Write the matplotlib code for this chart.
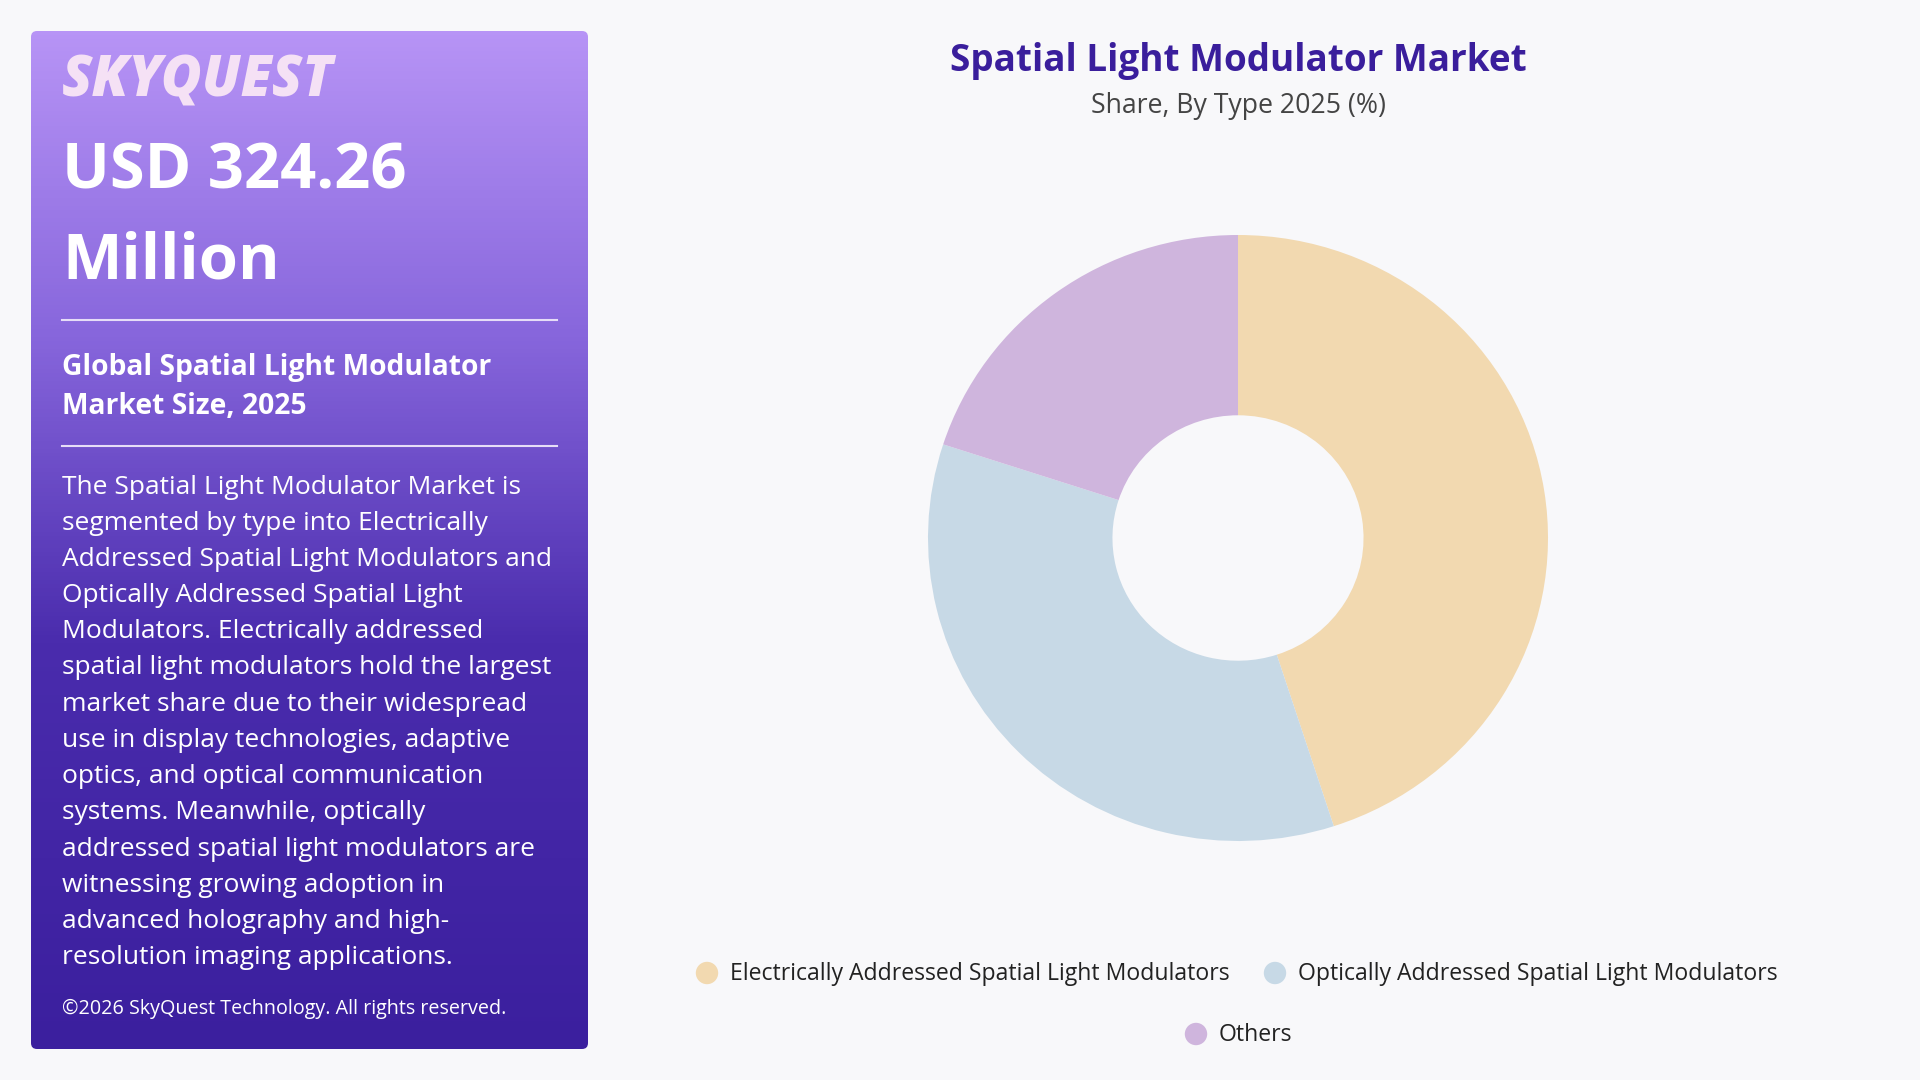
import matplotlib
matplotlib.use("Agg")
import matplotlib.pyplot as plt
import numpy as np
from matplotlib.patches import FancyBboxPatch
from matplotlib.colors import LinearSegmentedColormap

plt.rcParams['font.family'] = ['Open Sans', 'DejaVu Sans']

# chart data
types = ["Electrically Addressed Spatial Light Modulators",
         "Optically Addressed Spatial Light Modulators",
         "Others"]
shares = [45, 35, 20]
colors = ["#F2D9B0", "#C7D9E6", "#CFB5DD"]

title = "Spatial Light Modulator Market"
subtitle = "Share, By Type 2025 (%)"
market_value = ["USD 324.26", "Million"]
panel_heading = ["Global Spatial Light Modulator", "Market Size, 2025"]
body_lines = [
    "The Spatial Light Modulator Market is",
    "segmented by type into Electrically",
    "Addressed Spatial Light Modulators and",
    "Optically Addressed Spatial Light",
    "Modulators. Electrically addressed",
    "spatial light modulators hold the largest",
    "market share due to their widespread",
    "use in display technologies, adaptive",
    "optics, and optical communication",
    "systems. Meanwhile, optically",
    "addressed spatial light modulators are",
    "witnessing growing adoption in",
    "advanced holography and high-",
    "resolution imaging applications.",
]
footer = "\u00a92026 SkyQuest Technology. All rights reserved."

fig = plt.figure(figsize=(19.2, 10.8), dpi=100, facecolor="#F8F8FA")

# overlay axes in pixel coords for the panel, titles and legend
bg = fig.add_axes([0, 0, 1, 1])
bg.set_xlim(0, 1920)
bg.set_ylim(1080, 0)
bg.axis("off")
bg.patch.set_alpha(0)

# left panel with vertical gradient
px0, px1, py0, py1 = 31, 588, 31, 1049
grad = LinearSegmentedColormap.from_list(
    "panel", [(0, "#B794F6"), (0.3, "#8766DC"), (0.6, "#4A2CAD"), (1.0, "#3B1F9E")])
img = bg.imshow(np.linspace(0, 1, 256).reshape(-1, 1), cmap=grad, aspect="auto",
                extent=(px0, px1, py1, py0), zorder=1)
box = FancyBboxPatch((px0, py0), px1 - px0, py1 - py0,
                     boxstyle="round,pad=0,rounding_size=6",
                     facecolor="none", edgecolor="none", transform=bg.transData)
bg.add_patch(box)
img.set_clip_path(box)

tx = 62
bg.text(tx, 82, "SKYQUEST", color="#F5E1F5", fontsize=40, fontweight="heavy",
        fontstyle="italic", va="center", ha="left", zorder=3)
bg.text(tx, 172, market_value[0], color="white", fontsize=45.5, fontweight="bold",
        va="center", ha="left", zorder=3)
bg.text(tx, 262, market_value[1], color="white", fontsize=45.5, fontweight="bold",
        va="center", ha="left", zorder=3)
bg.plot([62, 557], [320, 320], color="#E6DDF7", lw=1.5, zorder=3)
bg.text(tx, 367, panel_heading[0], color="white", fontsize=20.3, fontweight="bold",
        va="center", ha="left", zorder=3)
bg.text(tx, 407, panel_heading[1], color="white", fontsize=20.3, fontweight="bold",
        va="center", ha="left", zorder=3)
bg.plot([62, 557], [446, 446], color="#E6DDF7", lw=1.5, zorder=3)
for i, line in enumerate(body_lines):
    bg.text(tx, 487 + i * 36.2, line, color="white", fontsize=19,
            va="center", ha="left", zorder=3)
bg.text(tx, 1009, footer, color="white", fontsize=14.2, va="center", ha="left", zorder=3)

# titles
bg.text(1238, 61, title, color="#3A1E9C", fontsize=26.6, fontweight="bold",
        ha="center", va="center")
bg.text(1238, 106, subtitle, color="#444444", fontsize=19.2, ha="center", va="center")

# donut (very slightly wider than tall, as in the source)
cx, cy, rx, ry = 1238, 538, 310, 303
ax = fig.add_axes([(cx - rx) / 1920, (1080 - cy - ry) / 1080, 2 * rx / 1920, 2 * ry / 1080])
ax.pie(shares, colors=colors, startangle=90, counterclock=False, radius=1,
       wedgeprops=dict(width=0.595, edgecolor="none"))
ax.set_xlim(-1, 1)
ax.set_ylim(-1, 1)
ax.set_aspect("auto")
ax.axis("off")

# legend, two rows centered
leg_pos = [(707, 973), (1275, 973), (1196, 1034)]
for (lx, ly), lab, c in zip(leg_pos, types, colors):
    bg.scatter([lx], [ly], s=260, color=c, edgecolors="none", zorder=3)
    bg.text(lx + 23, ly + 1, lab, color="#222222", fontsize=16.6, ha="left", va="center")

fig.savefig("out.png", dpi=100, facecolor=fig.get_facecolor())
